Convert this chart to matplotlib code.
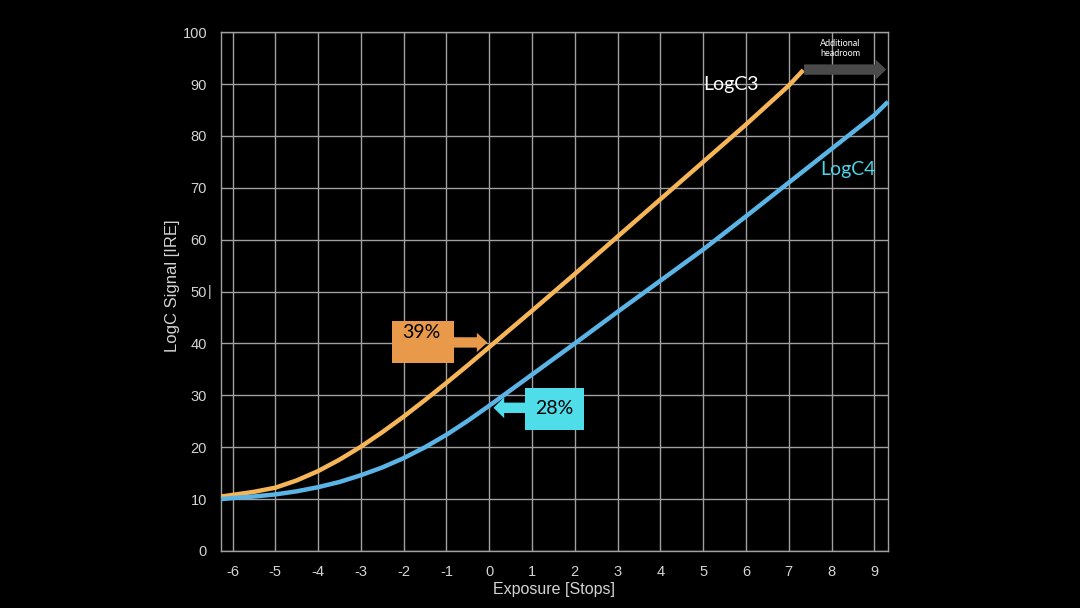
import numpy as np
import matplotlib
matplotlib.use("Agg")
import matplotlib.pyplot as plt
from matplotlib.patches import Rectangle, FancyArrow

plt.rcParams["axes.unicode_minus"] = False

# Curve readings (exposure in stops, signal in IRE)
logc3_stops = [-6.27, -6, -5.5, -5, -4.5, -4, -3.5, -3, -2.5, -2, -1.5, -1, -0.5, 0, 1, 2, 3, 4, 5, 6, 7, 7.34]
logc3_ire = [10.5, 10.8, 11.4, 12.2, 13.6, 15.4, 17.6, 20.1, 22.9, 25.9, 29.1, 32.4, 35.8, 39.3,
             46.3, 53.4, 60.6, 67.8, 75.0, 82.2, 89.7, 92.7]

logc4_stops = [-6.27, -6, -5.5, -5, -4.5, -4, -3.5, -3, -2.5, -2, -1.5, -1, -0.5, 0, 1, 2, 3, 4, 5, 6, 7, 8, 9, 9.32]
logc4_ire = [10.0, 10.2, 10.5, 10.9, 11.5, 12.3, 13.3, 14.6, 16.1, 17.9, 20.0, 22.4, 25.1, 28.0,
             34.0, 40.0, 46.1, 52.1, 58.1, 64.5, 71.0, 77.5, 84.0, 86.6]

x_ticks = list(range(-6, 10))
y_ticks = list(range(0, 101, 10))

mid_grey_c3 = "39%"
mid_grey_c4 = "28%"

orange = "#F6B557"
blue = "#5AB4E6"
box_orange = "#E8994A"
box_cyan = "#4FDDEA"
label_cyan = "#4DD3E6"
grid_col = "#a0a0a0"
text_col = "#d4d4d4"

fig = plt.figure(figsize=(10.8, 6.08), dpi=100, facecolor="black")
ax = fig.add_axes([0.2046, 0.0938, 0.8222 - 0.2046, 0.947 - 0.0938])
ax.set_facecolor("black")

ax.set_xlim(-6.27, 9.32)
ax.set_ylim(0, 100)
ax.set_xticks(x_ticks)
ax.set_yticks(y_ticks)
ax.grid(True, color=grid_col, linewidth=1.0)
ax.set_axisbelow(True)
for s in ax.spines.values():
    s.set_color(grid_col)
    s.set_linewidth(1.0)
ax.tick_params(length=0, colors=text_col, labelsize=10.5, pad=10)
for lab in ax.get_xticklabels() + ax.get_yticklabels():
    lab.set_family("Liberation Sans")

ax.set_xlabel("Exposure [Stops]", color=text_col, fontsize=11.5,
              family="Liberation Sans", labelpad=2)
fig.text(172 / 1080, 1 - 286 / 608, "LogC Signal [IRE]", rotation=90,
         color=text_col, fontsize=12, family="Liberation Sans",
         ha="center", va="center")
# stray cursor mark after the 50 tick label
ax.text(-6.58, 50, "|", color=text_col, fontsize=10, ha="left", va="center",
        family="Liberation Sans", clip_on=False)

# curves
ax.plot(logc3_stops, logc3_ire, color=orange, linewidth=3.2, solid_joinstyle="round",
        solid_capstyle="butt", zorder=3)
ax.plot(logc4_stops, logc4_ire, color=blue, linewidth=3.2, solid_joinstyle="round",
        solid_capstyle="butt", zorder=3, clip_on=False)

# headroom arrow
ax.add_patch(FancyArrow(7.36, 92.8, 1.92, 0, width=2.0, head_width=3.9, head_length=0.25,
                        length_includes_head=True, color="#4a4a4a", linewidth=0,
                        zorder=4, clip_on=False))
ax.text(8.21, 96.9, "Additional\nheadroom", color="white", fontsize=6.5,
        ha="center", va="center", family="Lato", linespacing=1.1, zorder=5)

# series labels
ax.text(5.65, 90.0, "LogC3", color="white", fontsize=14, ha="center", va="center",
        family="Lato", zorder=5)
ax.text(8.39, 73.6, "LogC4", color=label_cyan, fontsize=14, ha="center", va="center",
        family="Lato", zorder=5)

# 39% callout
ax.add_patch(Rectangle((-2.27, 36.3), 1.44, 8.1, color=box_orange, linewidth=0, zorder=4))
ax.add_patch(FancyArrow(-0.85, 40.2, 0.81, 0, width=2.0, head_width=3.7, head_length=0.25,
                        length_includes_head=True, color=box_orange, linewidth=0, zorder=4))
ax.text(-1.59, 42.1, mid_grey_c3, color="black", fontsize=14, ha="center", va="center",
        family="Lato", zorder=5)

# 28% callout
ax.add_patch(Rectangle((0.84, 23.3), 1.38, 8.1, color=box_cyan, linewidth=0, zorder=4))
ax.add_patch(FancyArrow(0.86, 27.6, -0.76, 0, width=2.0, head_width=4.0, head_length=0.25,
                        length_includes_head=True, color=box_cyan, linewidth=0, zorder=4))
ax.text(1.52, 27.4, mid_grey_c4, color="black", fontsize=14, ha="center", va="center",
        family="Lato", zorder=5)

fig.savefig("out.png", dpi=100, facecolor="black")
